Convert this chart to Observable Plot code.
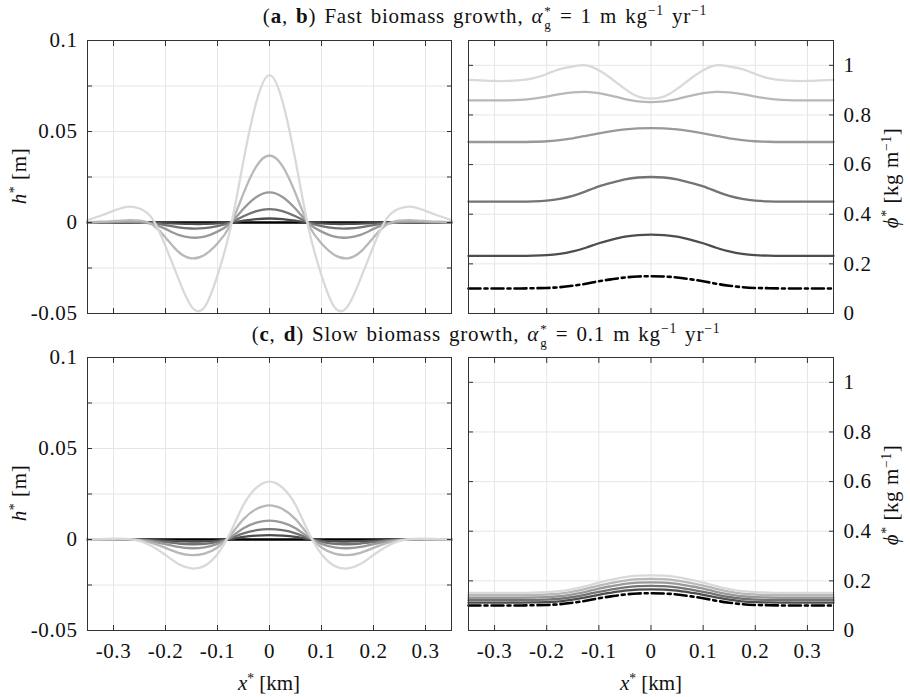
<!DOCTYPE html>
<html>
<head>
<meta charset="utf-8">
<script src="https://cdn.jsdelivr.net/npm/d3@7"></script>
<script src="https://cdn.jsdelivr.net/npm/@observablehq/plot@0.6"></script>
<style>
  html, body { margin: 0; padding: 0; background: #fff; }
  #chart { position: relative; width: 910px; height: 697px; background: #fff; font-family: "Liberation Serif", serif; color: #111; overflow: hidden; }
  #chart svg { position: absolute; }
  #chart svg text { font-family: "Liberation Serif", serif; font-size: 21px; letter-spacing: 0.6px; fill: #111; }
  .lbl { position: absolute; white-space: nowrap; font-size: 21px; line-height: 1.1; transform: translate(-50%, -50%); font-family: "Liberation Serif", serif; }
  .ttl { letter-spacing: 0.8px; word-spacing: 2px; }
  .rot { transform: translate(-50%, -50%) rotate(-90deg); letter-spacing: 0.6px; }
  .lbl sup { font-size: 0.65em; vertical-align: 0.55em; line-height: 0; }
  .ss { display: inline-block; vertical-align: -0.5em; font-size: 0.62em; line-height: 1.05em; margin: 0 1px 0 1px; letter-spacing: 0; }
  .ss span { display: block; }
</style>
</head>
<body>
<div id="chart"></div>
<script>
// ---- data ----
const xs = [-0.35,-0.325,-0.3,-0.275,-0.25,-0.225,-0.2,-0.175,-0.15,-0.125,-0.1,-0.075,-0.05,-0.025,0,0.025,0.05,0.075,0.1,0.125,0.15,0.175,0.2,0.225,0.25,0.275,0.3,0.325,0.35];

// (a) fast growth: h*
const hFast1 = [0,0,0,0,0,0,0,0,0,0,0,0,0,0,0,0,0,0,0,0,0,0,0,0,0,0,0,0,0];
const hFast2 = [0,0,0,0,0,-0.0001,-0.0003,-0.0006,-0.0008,-0.0008,-0.0005,0.0000,0.0010,0.0019,0.0022,0.0019,0.0010,0.0000,-0.0005,-0.0008,-0.0008,-0.0006,-0.0003,-0.0001,0,0,0,0,0];
const hFast3 = [0,0,0,0.0001,0.0001,-0.0003,-0.0014,-0.0027,-0.0033,-0.0031,-0.0020,0.0000,0.0034,0.0063,0.0074,0.0063,0.0034,0.0000,-0.0020,-0.0031,-0.0033,-0.0027,-0.0014,-0.0003,0.0001,0.0001,0,0,0];
const hFast4 = [0.0001,0.0002,0.0003,0.0004,0.0002,-0.0008,-0.0035,-0.0068,-0.0083,-0.0078,-0.0050,-0.0003,0.0075,0.0140,0.0165,0.0140,0.0075,-0.0003,-0.0050,-0.0078,-0.0083,-0.0068,-0.0035,-0.0008,0.0002,0.0004,0.0003,0.0002,0.0001];
const hFast5 = [0.0002,0.0004,0.0008,0.0012,0.0010,-0.0012,-0.0082,-0.0162,-0.0197,-0.0178,-0.0115,-0.0012,0.0160,0.0310,0.0368,0.0310,0.0160,-0.0012,-0.0115,-0.0178,-0.0197,-0.0162,-0.0082,-0.0012,0.0010,0.0012,0.0008,0.0004,0.0002];
const hFast6 = [0.0013,0.0037,0.0064,0.0086,0.0077,0.0020,-0.0130,-0.0310,-0.0462,-0.0465,-0.0290,-0.0030,0.0340,0.0665,0.0810,0.0665,0.0340,-0.0030,-0.0290,-0.0465,-0.0462,-0.0310,-0.0130,0.0020,0.0077,0.0086,0.0064,0.0037,0.0013];

// (b) fast growth: phi*
const phiFast1 = [0.101,0.101,0.101,0.101,0.101,0.102,0.103,0.106,0.112,0.120,0.130,0.138,0.145,0.149,0.150,0.149,0.145,0.138,0.130,0.120,0.112,0.106,0.103,0.102,0.101,0.101,0.101,0.101,0.101];
const phiFast2 = [0.232,0.232,0.232,0.232,0.232,0.233,0.235,0.240,0.250,0.265,0.283,0.298,0.310,0.316,0.318,0.316,0.310,0.298,0.283,0.265,0.250,0.240,0.235,0.233,0.232,0.232,0.232,0.232,0.232];
const phiFast3 = [0.451,0.451,0.451,0.451,0.451,0.452,0.455,0.462,0.474,0.492,0.512,0.527,0.540,0.548,0.550,0.548,0.540,0.527,0.512,0.492,0.474,0.462,0.455,0.452,0.451,0.451,0.451,0.451,0.451];
const phiFast4 = [0.691,0.691,0.691,0.691,0.691,0.692,0.694,0.699,0.706,0.716,0.726,0.735,0.742,0.746,0.747,0.746,0.742,0.735,0.726,0.716,0.706,0.699,0.694,0.692,0.691,0.691,0.691,0.691,0.691];
const phiFast5 = [0.859,0.859,0.859,0.859,0.861,0.866,0.874,0.884,0.891,0.893,0.888,0.877,0.864,0.855,0.852,0.855,0.864,0.877,0.888,0.893,0.891,0.884,0.874,0.866,0.861,0.859,0.859,0.859,0.859];
const phiFast6 = [0.941,0.939,0.937,0.937,0.940,0.948,0.965,0.985,0.995,1.000,0.980,0.945,0.905,0.874,0.866,0.874,0.905,0.945,0.980,1.000,0.995,0.985,0.965,0.948,0.940,0.937,0.937,0.939,0.941];

// (c) slow growth: h*
const hSlow1 = [0,0,0,0,0,0,0,0,0,0,0,0,0,0,0,0,0,0,0,0,0,0,0,0,0,0,0,0,0];
const hSlow2 = [0,0,0,0,0,-0.0003,-0.0006,-0.0009,-0.0011,-0.0010,-0.0006,0.0003,0.0014,0.0021,0.0024,0.0021,0.0014,0.0003,-0.0006,-0.0010,-0.0011,-0.0009,-0.0006,-0.0003,0,0,0,0,0];
const hSlow3 = [0,0,0,0,-0.0001,-0.0006,-0.0014,-0.0022,-0.0026,-0.0024,-0.0013,0.0007,0.0034,0.0051,0.0057,0.0051,0.0034,0.0007,-0.0013,-0.0024,-0.0026,-0.0022,-0.0014,-0.0006,-0.0001,0,0,0,0];
const hSlow4 = [0,0,0,0,-0.0002,-0.0011,-0.0026,-0.0041,-0.0048,-0.0043,-0.0024,0.0013,0.0062,0.0093,0.0104,0.0093,0.0062,0.0013,-0.0024,-0.0043,-0.0048,-0.0041,-0.0026,-0.0011,-0.0002,0,0,0,0];
const hSlow5 = [0,0,0,0.0001,-0.0004,-0.0020,-0.0046,-0.0073,-0.0086,-0.0078,-0.0044,0.0024,0.0112,0.0168,0.0188,0.0168,0.0112,0.0024,-0.0044,-0.0078,-0.0086,-0.0073,-0.0046,-0.0020,-0.0004,0.0001,0,0,0];
const hSlow6 = [0.0001,0.0002,0.0004,0.0003,-0.0008,-0.0038,-0.0085,-0.0135,-0.0159,-0.0145,-0.0080,0.0040,0.0190,0.0285,0.0318,0.0285,0.0190,0.0040,-0.0080,-0.0145,-0.0159,-0.0135,-0.0085,-0.0038,-0.0008,0.0003,0.0004,0.0002,0.0001];

// (d) slow growth: phi*
const phiSlow1 = [0.101,0.101,0.101,0.101,0.101,0.102,0.103,0.106,0.112,0.120,0.130,0.138,0.145,0.149,0.150,0.149,0.145,0.138,0.130,0.120,0.112,0.106,0.103,0.102,0.101,0.101,0.101,0.101,0.101];
const phiSlow2 = [0.112,0.112,0.112,0.112,0.112,0.113,0.114,0.117,0.124,0.133,0.144,0.153,0.161,0.165,0.166,0.165,0.161,0.153,0.144,0.133,0.124,0.117,0.114,0.113,0.112,0.112,0.112,0.112,0.112];
const phiSlow3 = [0.122,0.122,0.122,0.122,0.122,0.123,0.124,0.128,0.135,0.145,0.156,0.166,0.174,0.179,0.180,0.179,0.174,0.166,0.156,0.145,0.135,0.128,0.124,0.123,0.122,0.122,0.122,0.122,0.122];
const phiSlow4 = [0.132,0.132,0.132,0.132,0.132,0.133,0.134,0.138,0.146,0.156,0.169,0.179,0.188,0.193,0.194,0.193,0.188,0.179,0.169,0.156,0.146,0.138,0.134,0.133,0.132,0.132,0.132,0.132,0.132];
const phiSlow5 = [0.142,0.142,0.142,0.142,0.142,0.143,0.145,0.149,0.157,0.168,0.181,0.192,0.201,0.207,0.208,0.207,0.201,0.192,0.181,0.168,0.157,0.149,0.145,0.143,0.142,0.142,0.142,0.142,0.142];
const phiSlow6 = [0.152,0.152,0.152,0.152,0.152,0.153,0.155,0.159,0.167,0.179,0.193,0.205,0.215,0.221,0.222,0.221,0.215,0.205,0.193,0.179,0.167,0.159,0.155,0.153,0.152,0.152,0.152,0.152,0.152];

// ticks
const xTicks = [-0.3,-0.2,-0.1,0,0.1,0.2,0.3];
const hTicks = [-0.05,-0.025,0,0.025,0.05,0.075,0.1];
const hTickLabels = [-0.05,0,0.05,0.1];
const phiTicks = [0,0.2,0.4,0.6,0.8,1];

const grays = ["#000000","#4d4d4d","#737373","#999999","#b8b8b8","#d9d9d9"];
const FONT = '"Liberation Serif", serif';

const chart = document.getElementById("chart");

function panel({series, yDomain, yTicks, yLabels, dashFirst, left, top, width, height, mL, mR, mT, mB, showX, rightSide}) {
  const fmt = d => String(d);
  const yfmt = d => yLabels.includes(d) ? String(d) : "";
  const lines = series.map((vals, i) => Plot.line(vals.map((v, j) => ({x: xs[j], y: v})), {
    x: "x", y: "y", stroke: grays[i], strokeWidth: (i === 0 && dashFirst) ? 2.6 : 2.3, curve: "natural",
    strokeDasharray: (i === 0 && dashFirst) ? "12,4,3,4" : null
  }));
  const ax = {label: null, stroke: "#333", fontFamily: FONT, fontSize: 21};
  const svg = Plot.plot({
    width, height, marginLeft: mL, marginRight: mR, marginTop: mT, marginBottom: mB,
    x: {domain: [-0.35, 0.35]},
    y: {domain: yDomain},
    style: {fontFamily: FONT, fontSize: "21px", color: "#1a1a1a", background: "transparent", overflow: "visible"},
    marks: [
      Plot.gridX(xTicks, {stroke: "#e6e6e6", strokeOpacity: 1}),
      Plot.gridY(yTicks, {stroke: "#e6e6e6", strokeOpacity: 1}),
      ...lines,
      Plot.frame({stroke: "#333333", strokeWidth: 1}),
      Plot.axisX(xTicks, {...ax, anchor: "bottom", tickSize: -5, tickPadding: 18, tickFormat: showX ? fmt : () => ""}),
      Plot.axisX(xTicks, {...ax, anchor: "top", tickSize: -5, tickFormat: () => ""}),
      Plot.axisY(yTicks, {...ax, anchor: "left", tickSize: -5, tickPadding: 15, tickFormat: rightSide ? () => "" : yfmt}),
      Plot.axisY(yTicks, {...ax, anchor: "right", tickSize: -5, tickPadding: 15, tickFormat: rightSide ? yfmt : () => ""})
    ]
  });
  svg.style.left = left + "px";
  svg.style.top = top + "px";
  chart.appendChild(svg);
}

// top-left (a)
panel({series: [hFast1,hFast2,hFast3,hFast4,hFast5,hFast6], yDomain: [-0.05, 0.1], yTicks: hTicks, yLabels: hTickLabels,
  dashFirst: false, left: 0, top: 0, width: 460, height: 330, mL: 87, mR: 9, mT: 40, mB: 17, showX: false, rightSide: false});
// top-right (b)
panel({series: [phiFast1,phiFast2,phiFast3,phiFast4,phiFast5,phiFast6], yDomain: [0, 1.1], yTicks: phiTicks, yLabels: phiTicks,
  dashFirst: true, left: 460, top: 0, width: 450, height: 330, mL: 8, mR: 77, mT: 40, mB: 17, showX: false, rightSide: true});
// bottom-left (c)
panel({series: [hSlow1,hSlow2,hSlow3,hSlow4,hSlow5,hSlow6], yDomain: [-0.05, 0.1], yTicks: hTicks, yLabels: hTickLabels,
  dashFirst: false, left: 0, top: 330, width: 460, height: 367, mL: 87, mR: 9, mT: 27, mB: 67, showX: true, rightSide: false});
// bottom-right (d)
panel({series: [phiSlow1,phiSlow2,phiSlow3,phiSlow4,phiSlow5,phiSlow6], yDomain: [0, 1.1], yTicks: phiTicks, yLabels: phiTicks,
  dashFirst: true, left: 460, top: 330, width: 450, height: 367, mL: 8, mR: 77, mT: 27, mB: 67, showX: true, rightSide: true});

// text labels
function label(html, x, y, cls) {
  const d = document.createElement("div");
  d.className = "lbl" + (cls ? " " + cls : "");
  d.style.left = x + "px";
  d.style.top = y + "px";
  d.innerHTML = html;
  chart.appendChild(d);
}
label('(<b>a</b>, <b>b</b>) Fast biomass growth, <i>α</i><span class="ss"><span>*</span><span>g</span></span> = 1 m kg<sup>−1</sup> yr<sup>−1</sup>', 485, 18, "ttl");
label('(<b>c</b>, <b>d</b>) Slow biomass growth, <i>α</i><span class="ss"><span>*</span><span>g</span></span> = 0.1 m kg<sup>−1</sup> yr<sup>−1</sup>', 486, 336, "ttl");
label('<i>h</i><sup>*</sup> [m]', 20, 176, "rot");
label('<i>h</i><sup>*</sup> [m]', 20, 493, "rot");
label('<i>ϕ</i><sup>*</sup> [kg m<sup>−1</sup>]', 892, 178, "rot");
label('<i>ϕ</i><sup>*</sup> [kg m<sup>−1</sup>]', 892, 495, "rot");
label('<i>x</i><sup>*</sup> [km]', 269, 684);
label('<i>x</i><sup>*</sup> [km]', 651, 684);
</script>
</body>
</html>
